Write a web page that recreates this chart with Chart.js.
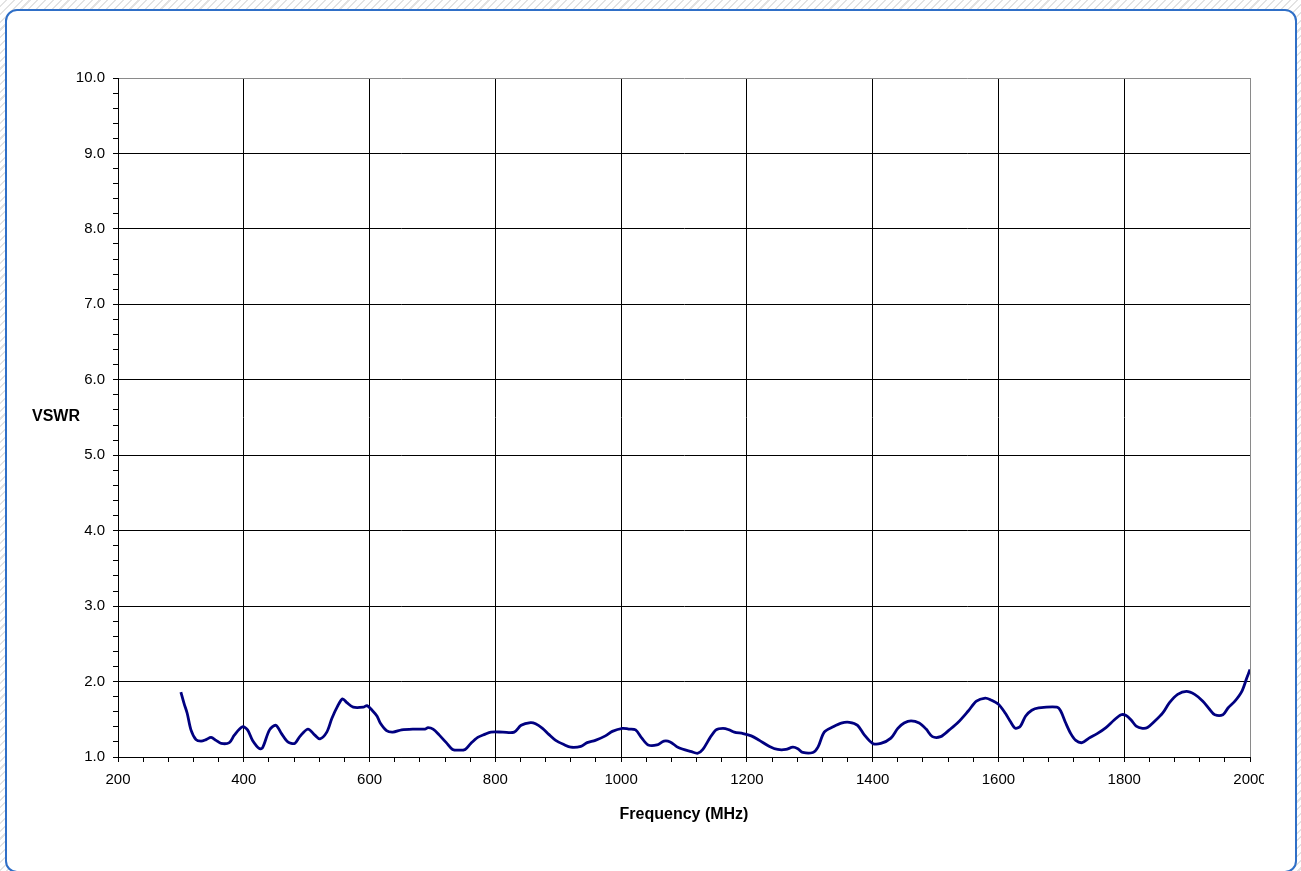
<!DOCTYPE html>
<html>
<head>
<meta charset="utf-8">
<title>VSWR</title>
<script src="https://cdn.jsdelivr.net/npm/chart.js@4.4.1/dist/chart.umd.min.js"></script>
<style>
  html, body {
    margin: 0; padding: 0; width: 1301px; height: 871px; overflow: hidden;
    background: repeating-linear-gradient(135deg, #fff 0 4px, #e3e3e3 4px 5.5px);
  }
  #frame {
    position: absolute; left: 5px; top: 9px; width: 1288px; height: 860px;
    border: 2px solid #2f6fc7; border-radius: 12px; background: #fff;
  }
  #chart { position: absolute; left: 0; top: 0; }
</style>
</head>
<body>
<div id="frame"></div>
<canvas id="chart" width="1264" height="860" style="width:1264px;height:860px"></canvas>
<script>
const freqMHz = [
  300, 305, 310, 316, 324, 332, 340, 348, 356, 364, 377, 385, 398, 406, 414, 425, 430,
  441, 451, 460, 470, 481, 489, 502, 513, 521, 532, 540, 549, 557, 564, 574, 590, 596,
  604, 612, 617, 627, 637, 651, 669, 688, 693, 701, 711, 722, 732, 743, 752, 761, 772,
  783, 793, 812, 830, 841, 856, 864, 875, 885, 896, 909, 920, 936, 946, 959, 975, 986,
  1002, 1012, 1023, 1033, 1043, 1057, 1068, 1078, 1091, 1112, 1122, 1130, 1141, 1151,
  1162, 1172, 1180, 1194, 1207, 1220, 1236, 1249, 1262, 1273, 1281, 1289, 1305, 1313,
  1323, 1337, 1350, 1363, 1376, 1387, 1400, 1413, 1429, 1440, 1450, 1461, 1474, 1485,
  1495, 1508, 1522, 1536, 1552, 1565, 1579, 1587, 1600, 1611, 1619, 1627, 1635, 1643,
  1653, 1664, 1693, 1699, 1707, 1715, 1723, 1733, 1744, 1757, 1771, 1784, 1795, 1803,
  1811, 1819, 1829, 1837, 1848, 1861, 1872, 1885, 1899, 1912, 1925, 1936, 1944, 1957,
  1965, 1976, 1987, 1995, 2000
];
const vswr = [
  1.86, 1.71, 1.58, 1.36, 1.23, 1.21, 1.23, 1.26, 1.22, 1.18, 1.19, 1.29, 1.40, 1.36, 1.22, 1.11, 1.125,
  1.36, 1.42, 1.31, 1.20, 1.18, 1.27, 1.37, 1.29, 1.24, 1.33, 1.51, 1.67, 1.77, 1.72, 1.66, 1.66, 1.68,
  1.62, 1.54, 1.45, 1.35, 1.33, 1.36, 1.37, 1.37, 1.39, 1.37, 1.29, 1.19, 1.10, 1.09, 1.10, 1.18, 1.26,
  1.30, 1.33, 1.33, 1.33, 1.42, 1.455, 1.44, 1.38, 1.30, 1.22, 1.165, 1.13, 1.14, 1.19, 1.22, 1.28, 1.34,
  1.38, 1.37, 1.36, 1.25, 1.16, 1.16, 1.21, 1.20, 1.125, 1.07, 1.05, 1.10, 1.25, 1.36,
  1.38, 1.36, 1.33, 1.31, 1.28, 1.22, 1.14, 1.10, 1.10, 1.13, 1.11, 1.06, 1.06, 1.13,
  1.33, 1.40, 1.45, 1.46, 1.42, 1.29, 1.18, 1.18, 1.25, 1.38, 1.45, 1.48, 1.45, 1.37,
  1.27, 1.27, 1.36, 1.46, 1.61, 1.74, 1.78, 1.76, 1.70, 1.58, 1.47, 1.38, 1.41, 1.54,
  1.62, 1.65, 1.66, 1.61, 1.45, 1.31, 1.22, 1.19, 1.25, 1.31, 1.39, 1.49, 1.56, 1.55,
  1.49, 1.41, 1.38, 1.39, 1.47, 1.58, 1.72, 1.83, 1.87, 1.83, 1.74, 1.63, 1.56, 1.56,
  1.65, 1.74, 1.87, 2.05, 2.16
];

const FONT = '"Liberation Sans", Arial, sans-serif';
const isMul = (v, s) => Math.abs(v / s - Math.round(v / s)) < 1e-6;

// Axis titles are drawn by hand: the y title sits horizontally, like the original.
const axisTitles = {
  id: 'axisTitles',
  afterDraw(chart) {
    const ctx = chart.ctx;
    const a = chart.chartArea;
    ctx.save();
    ctx.fillStyle = '#000';
    ctx.font = 'bold 16px ' + FONT;
    ctx.textAlign = 'center';
    ctx.textBaseline = 'middle';
    ctx.fillText('Frequency (MHz)', (a.left + a.right) / 2, 815);
    ctx.fillText('VSWR', 56, 417);
    ctx.restore();
  }
};

new Chart(document.getElementById('chart'), {
  type: 'line',
  data: {
    datasets: [{
      label: 'VSWR',
      data: freqMHz.map((f, i) => ({ x: f, y: vswr[i] })),
      borderColor: '#000080',
      borderWidth: 2.8,
      pointRadius: 0,
      tension: 0.3,
      fill: false
    }]
  },
  options: {
    responsive: false,
    animation: false,
    devicePixelRatio: 1,
    layout: { padding: { left: 58, top: 78, right: 14, bottom: 63 } },
    plugins: {
      legend: { display: false },
      tooltip: { enabled: false }
    },
    scales: {
      x: {
        type: 'linear',
        min: 200,
        max: 2000,
        afterFit(s) { s.height = 40; s.paddingLeft = 0; s.paddingRight = 0; },
        ticks: {
          stepSize: 40,
          autoSkip: false,
          maxRotation: 0,
          padding: 9,
          color: '#000',
          font: { family: FONT, size: 15 },
          callback: v => isMul(v, 200) ? String(Math.round(v)) : ''
        },
        grid: {
          color: c => {
            const v = c.tick.value;
            if (Math.abs(v - 2000) < 1e-6) return '#8a8a8a';
            return isMul(v, 200) ? '#000' : 'rgba(0,0,0,0)';
          },
          tickColor: '#000',
          tickLength: 5,
          lineWidth: 1
        },
        border: { color: '#000', width: 1 }
      },
      y: {
        type: 'linear',
        min: 1,
        max: 10,
        afterFit(s) { s.width = 60; s.paddingTop = 0; s.paddingBottom = 0; },
        ticks: {
          stepSize: 0.2,
          autoSkip: false,
          padding: 8,
          color: '#000',
          font: { family: FONT, size: 15 },
          callback: v => isMul(v, 1) ? v.toFixed(1) : ''
        },
        grid: {
          color: c => {
            const v = c.tick.value;
            if (Math.abs(v - 10) < 1e-6) return '#8a8a8a';
            return isMul(v, 1) ? '#000' : 'rgba(0,0,0,0)';
          },
          tickColor: '#000',
          tickLength: 5,
          lineWidth: 1
        },
        border: { color: '#000', width: 1 }
      }
    }
  },
  plugins: [axisTitles]
});
</script>
</body>
</html>
